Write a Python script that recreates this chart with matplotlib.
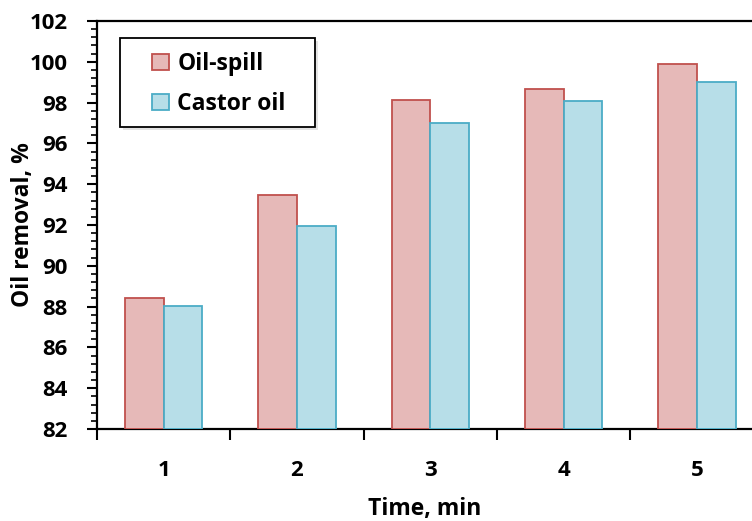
import matplotlib

matplotlib.use("Agg")
import matplotlib.pyplot as plt
import numpy as np
from matplotlib.patches import Rectangle
from matplotlib.ticker import MultipleLocator, FixedLocator, NullFormatter

times = [1, 2, 3, 4, 5]
oil_spill = [88.4, 93.45, 98.15, 98.65, 99.9]
castor_oil = [88.05, 91.95, 97.0, 98.1, 99.0]

plt.rcParams["font.family"] = ["Open Sans", "DejaVu Sans"]
plt.rcParams["font.weight"] = "bold"

fig = plt.figure(figsize=(7.52, 5.21), dpi=100)
ax = fig.add_axes([97 / 752, 1 - 429 / 521, 1 - 97 / 752, (429 - 21) / 521])

x = np.array(times, dtype=float)
w = 0.29
ax.bar(x - w / 2, [v - 82 for v in oil_spill], w, bottom=82, color="#e6b9b8",
       edgecolor="#c0504d", linewidth=1.3, label="Oil-spill", zorder=3)
ax.bar(x + w / 2, [v - 82 for v in castor_oil], w, bottom=82, color="#b7dee8",
       edgecolor="#4bacc6", linewidth=1.3, label="Castor oil", zorder=3)

ax.set_xlim(0.5, 0.5 + 655 / 133.3)
ax.set_ylim(82, 102)
ax.yaxis.set_major_locator(MultipleLocator(2))
ax.yaxis.set_minor_locator(MultipleLocator(0.4))
ax.tick_params(axis="y", which="major", direction="out", length=7, width=1.5,
               labelsize=16, pad=14)
ax.tick_params(axis="y", which="minor", direction="out", length=4, width=1.2)

# x: boundary ticks, labels at category centres
ax.xaxis.set_major_locator(FixedLocator([0.5, 1.5, 2.5, 3.5, 4.5, 5.5]))
ax.xaxis.set_major_formatter(NullFormatter())
ax.xaxis.set_minor_locator(FixedLocator(times))
ax.set_xticklabels([str(t) for t in times], minor=True)
ax.tick_params(axis="x", which="major", direction="out", length=8, width=1.5)
ax.tick_params(axis="x", which="minor", length=0, labelsize=16, pad=22)

for s in ["left", "bottom", "top"]:
    ax.spines[s].set_linewidth(1.6)
ax.spines["right"].set_visible(False)

ax.set_xlabel("Time, min", fontsize=16.5, fontweight="bold", labelpad=12)
ax.set_ylabel("Oil removal, %", fontsize=16.5, fontweight="bold")
ax.yaxis.set_label_coords(-0.094, 0.5)

# legend box drawn by hand (wide frame with a soft shadow)
bx0, bx1 = (120 - 97) / 655, (315 - 97) / 655
by0, by1 = (429 - 127) / 408, (429 - 38) / 408
shadow = Rectangle((bx0 + 0.005, by0 - 0.008), bx1 - bx0, by1 - by0,
                   transform=ax.transAxes, facecolor="#c8c8c8", alpha=0.5,
                   edgecolor="none", zorder=5)
frame = Rectangle((bx0, by0), bx1 - bx0, by1 - by0, transform=ax.transAxes,
                  facecolor="white", edgecolor="black", linewidth=1.3, zorder=6)
ax.add_patch(shadow)
ax.add_patch(frame)

leg = ax.legend(loc="upper left", bbox_to_anchor=((152 - 97) / 655, (429 - 52) / 408),
                fontsize=16.5, frameon=False, handlelength=0.75,
                handleheight=0.75, labelspacing=0.7, borderpad=0,
                handletextpad=0.35, borderaxespad=0)
leg.set_zorder(7)

fig.savefig("out.png", dpi=100)
